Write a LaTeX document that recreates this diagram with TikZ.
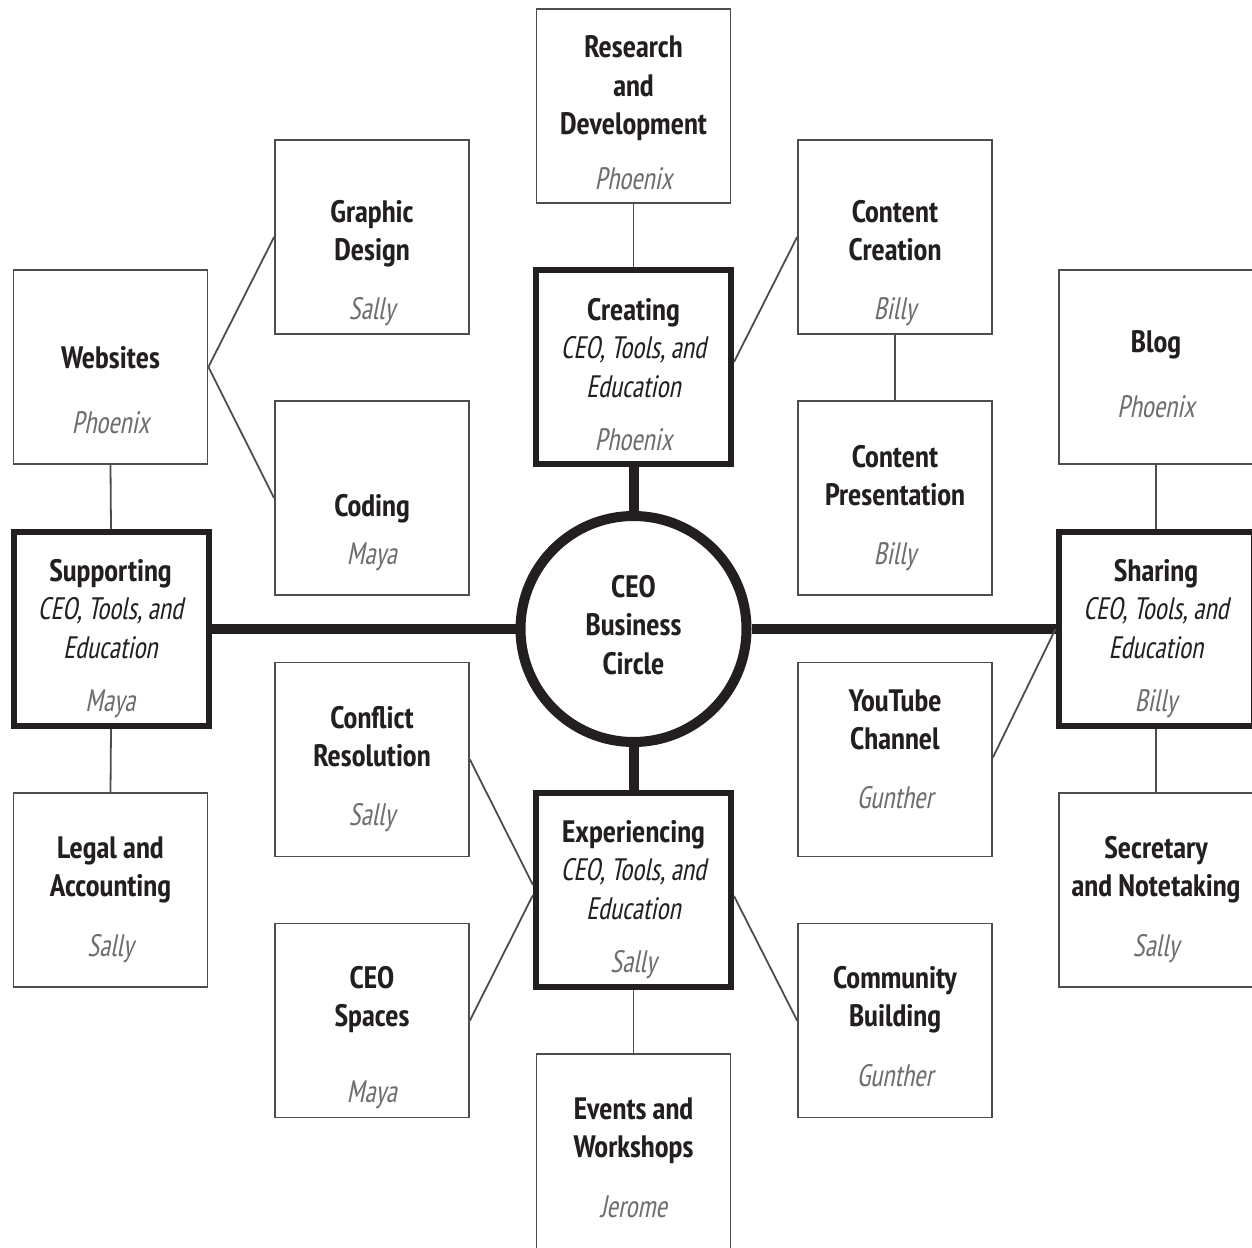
\documentclass[tikz,border=0pt]{standalone}
\usepackage{fontspec}
\setmainfont{PT Sans Narrow}[AutoFakeSlant=0.2]
\newfontfamily\itfont{PT Sans Narrow}[FakeSlant=0.2, FakeStretch=0.89]
\usetikzlibrary{calc}
\definecolor{ink}{HTML}{231F20}
\definecolor{thin}{HTML}{4D4D4D}
\definecolor{nm}{HTML}{6D6E71}
\newcommand\ttl[1]{\begin{tabular}[t]{@{}c@{}}#1\end{tabular}}
\newcommand\ital[1]{{\itfont\mdseries #1}}
\begin{document}
\begin{tikzpicture}[x=1pt,y=-1pt,
 box/.style={draw=thin, line width=1.8pt, minimum width=194pt, minimum height=194pt, inner sep=0pt},
 tbox/.style={draw=ink, line width=6pt, minimum width=195pt, minimum height=194pt, inner sep=0pt},
 hub/.style={circle, draw=ink, line width=10pt, minimum size=226pt, inner sep=0pt},
 ttext/.style={anchor=base, inner sep=0pt, font=\fontsize{31}{38.5}\selectfont\bfseries, text=ink},
 ntext/.style={anchor=base, inner sep=0pt, font=\fontsize{31}{38.5}\selectfont\itfont\mdseries, text=nm},
 link/.style={draw=thin, line width=1.8pt},
 bar/.style={draw=ink, line width=10pt},
]
\useasboundingbox (0,0) rectangle (1252,1247);
\clip (0,0) rectangle (1252,1247);

% boxes
\node[box]  (rd)    at (633.5,106)  {};
\node[box]  (gd)    at (372,237)    {};
\node[box]  (cc)    at (895,237)    {};
\node[box]  (web)   at (110.5,367)  {};
\node[tbox] (cre)   at (633.5,367)  {};
\node[box]  (blog)  at (1156,367)   {};
\node[box]  (cod)   at (372,498)    {};
\node[box]  (cp)    at (895,498)    {};
\node[tbox] (sup)   at (111,629)    {};
\node[hub]  (hub)   at (633.5,629)  {};
\node[tbox] (sha)   at (1156,629)   {};
\node[box]  (cr)    at (372,759.5)  {};
\node[box]  (yt)    at (895,759.5)  {};
\node[box]  (legal) at (110.5,890)  {};
\node[tbox] (exp)   at (633.5,890)  {};
\node[box]  (sec)   at (1156,890)   {};
\node[box]  (sp)    at (372,1020.5) {};
\node[box]  (cb)    at (895,1020.5) {};
\node[box, minimum height=204pt]  (ev) at (633.5,1156) {};

% connectors
\draw[link] (rd.south) -- (cre.north);
\draw[bar]  (cre.south) -- (hub.north);
\draw[bar]  (hub.south) -- (exp.north);
\draw[link] (exp.south) -- (ev.north);
\draw[bar]  (sup.east) -- (hub.west);
\draw[bar]  (hub.east) -- (sha.west);
\draw[link] (web.south) -- (sup.north);
\draw[link] (sup.south) -- (legal.north);
\draw[link] (blog.south) -- (sha.north);
\draw[link] (sha.south) -- (sec.north);
\draw[link] (cc.south) -- (cp.north);
\draw[link] (gd.west) -- (web.east) -- (cod.west);
\draw[link] ($(cre.east)+(0,-5)$) -- (cc.west);
\draw[link] (cr.east) -- ($(exp.west)+(0,-5)$);
\draw[link] (sp.east) -- ($(exp.west)+(0,5)$);
\draw[link] ($(exp.east)+(0,6)$) -- (cb.west);
\draw[link] (sha.west) -- ($(yt.east)+(0,-2)$);

% texts
\node[ttext] (rd-t) at (633.5,58) {\ttl{Research\\and\\Development}};
\node[ntext] (rd-n) at (633.5,189) {Phoenix};
\node[ttext] (gd-t) at (372,222) {\ttl{Graphic\\Design}};
\node[ntext] (gd-n) at (372,319) {Sally};
\node[ttext] (cc-t) at (895,222) {\ttl{Content\\Creation}};
\node[ntext] (cc-n) at (895,319) {Billy};
\node[ttext] (web-t) at (110.5,368) {Websites};
\node[ntext] (web-n) at (110.5,433) {Phoenix};
\node[ttext] (blog-t) at (1156,352) {Blog};
\node[ntext] (blog-n) at (1156,417) {Phoenix};
\node[ttext] (cre-t) at (633.5,320) {\ttl{Creating\\\ital{CEO, Tools, and}\\\ital{Education}}};
\node[ntext] (cre-n) at (633.5,450) {Phoenix};
\node[ttext] (cod-t) at (372,516) {Coding};
\node[ntext] (cod-n) at (372,564) {Maya};
\node[ttext] (cp-t) at (895,467) {\ttl{Content\\Presentation}};
\node[ntext] (cp-n) at (895,564) {Billy};
\node[ttext] (sup-t) at (110.5,581) {\ttl{Supporting\\\ital{CEO, Tools, and}\\\ital{Education}}};
\node[ntext] (sup-n) at (110.5,711) {Maya};
\node[ttext] (sha-t) at (1156,581) {\ttl{Sharing\\\ital{CEO, Tools, and}\\\ital{Education}}};
\node[ntext] (sha-n) at (1156,711) {Billy};
\node[ttext] (hub-t) at (633.5,597) {\ttl{CEO\\Business\\Circle}};
\node[ttext] (cr-t) at (372,728) {\ttl{Conflict\\Resolution}};
\node[ntext] (cr-n) at (372,825) {Sally};
\node[ttext] (yt-t) at (895,711) {\ttl{YouTube\\Channel}};
\node[ntext] (yt-n) at (895,808) {Gunther};
\node[ttext] (exp-t) at (633.5,842) {\ttl{Experiencing\\\ital{CEO, Tools, and}\\\ital{Education}}};
\node[ntext] (exp-n) at (633.5,972) {Sally};
\node[ttext] (legal-t) at (110.5,858) {\ttl{Legal and\\Accounting}};
\node[ntext] (legal-n) at (110.5,956) {Sally};
\node[ttext] (sec-t) at (1156,858) {\ttl{Secretary\\and Notetaking}};
\node[ntext] (sec-n) at (1156,956) {Sally};
\node[ttext] (sp-t) at (372,988) {\ttl{CEO\\Spaces}};
\node[ntext] (sp-n) at (372,1102) {Maya};
\node[ttext] (cb-t) at (895,988) {\ttl{Community\\Building}};
\node[ntext] (cb-n) at (895,1086) {Gunther};
\node[ttext] (ev-t) at (633.5,1119) {\ttl{Events and\\Workshops}};
\node[ntext] (ev-n) at (633.5,1217) {Jerome};
\end{tikzpicture}
\end{document}
